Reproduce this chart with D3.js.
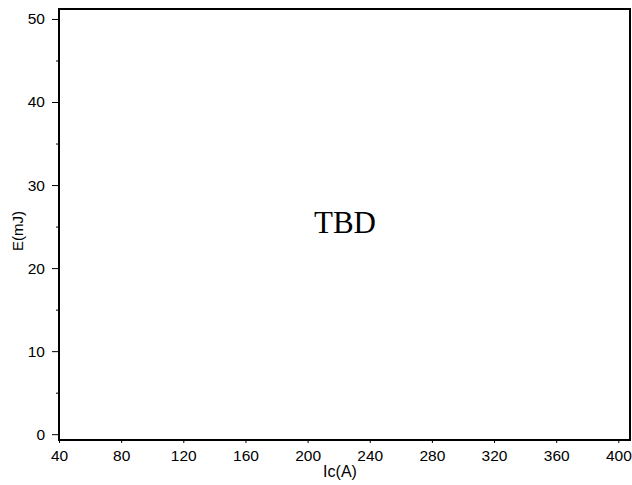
<!DOCTYPE html>
<html>
<head>
<meta charset="utf-8">
<script src="https://cdn.jsdelivr.net/npm/d3@7"></script>
<style>
  body { margin: 0; background: #fff; }
  svg { display: block; }
</style>
</head>
<body>
<svg id="chart" width="632" height="485"></svg>
<script>
var width = 632, height = 485

// axis settings
var xDomain = [40, 407.5]
var yDomain = [-0.7, 51.2]
var xTicks = [40, 80, 120, 160, 200, 240, 280, 320, 360, 400]
var yTicks = [0, 10, 20, 30, 40, 50]
var yMinorTicks = [5, 15, 25, 35, 45]
var placeholder = ['TBD']

var plotLeft = 59, plotRight = 630, plotTop = 9, plotBottom = 440
var sans = 'Liberation Sans, Arial, sans-serif'

var svg = d3.select('#chart')

var x = d3.scaleLinear().domain(xDomain).range([plotLeft, plotRight])
var y = d3.scaleLinear().domain(yDomain).range([plotBottom, plotTop])

svg.append('g')
  .attr('transform', 'translate(0,' + plotBottom + ')')
  .call(d3.axisBottom(x).tickValues(xTicks).tickSize(3).tickPadding(7))
  .call(function(g) {
    g.select('.domain').remove()
    g.selectAll('line').attr('stroke-width', 1)
    g.selectAll('text').attr('font-family', sans).attr('font-size', 15.5).attr('fill', '#000')
  })

svg.append('g')
  .attr('transform', 'translate(' + plotLeft + ',0)')
  .call(d3.axisLeft(y).tickValues(yTicks).tickSize(7).tickPadding(7))
  .call(function(g) {
    g.select('.domain').remove()
    g.selectAll('line').attr('stroke-width', 1)
    g.selectAll('text').attr('font-family', sans).attr('font-size', 15.5).attr('fill', '#000')
  })

svg.append('g')
  .attr('transform', 'translate(' + plotLeft + ',0)')
  .call(d3.axisLeft(y).tickValues(yMinorTicks).tickSize(3).tickFormat(''))
  .call(function(g) { g.select('.domain').remove() })

// frame
svg.append('rect')
  .attr('x', plotLeft)
  .attr('y', plotTop)
  .attr('width', plotRight - plotLeft)
  .attr('height', plotBottom - plotTop)
  .attr('fill', 'none')
  .attr('stroke', '#000')
  .attr('stroke-width', 2)

svg.append('text')
  .attr('x', 340)
  .attr('y', 476.5)
  .attr('text-anchor', 'middle')
  .attr('font-family', sans)
  .attr('font-size', 16)
  .text('Ic(A)')

svg.append('text')
  .attr('transform', 'translate(23,231) rotate(-90)')
  .attr('text-anchor', 'middle')
  .attr('font-family', sans)
  .attr('font-size', 15)
  .text('E(mJ)')

svg.selectAll('.tbd')
  .data(placeholder)
  .enter()
  .append('text')
  .attr('class', 'tbd')
  .attr('x', 345)
  .attr('y', 233)
  .attr('text-anchor', 'middle')
  .attr('font-family', 'Liberation Serif, Times New Roman, serif')
  .attr('font-size', 31)
  .text(function(d) { return d })
</script>
</body>
</html>
